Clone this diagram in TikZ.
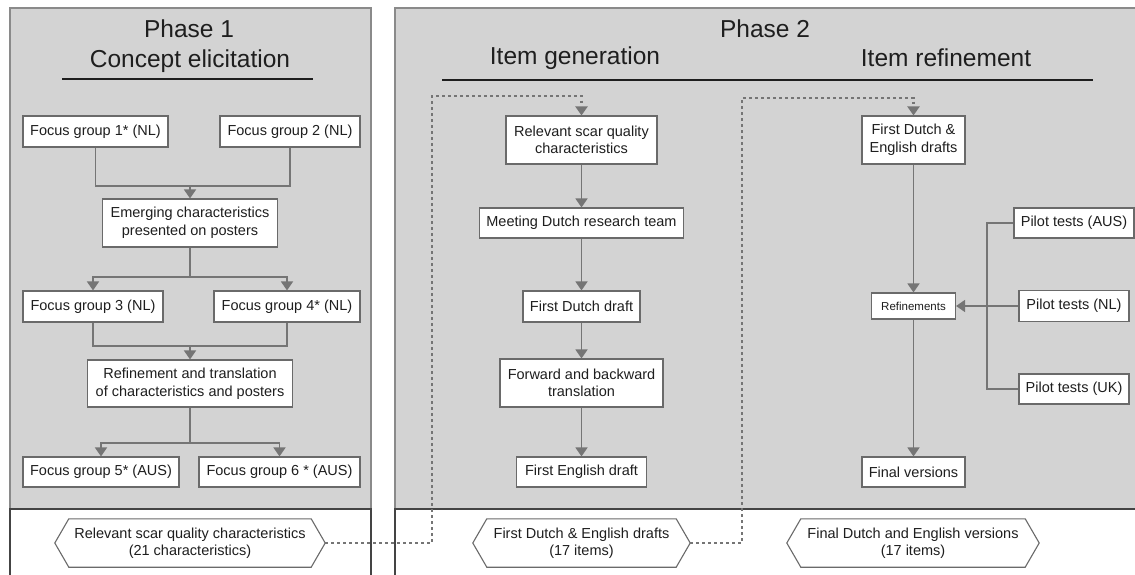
\documentclass[tikz,border=0pt]{standalone}
\usepackage{fontspec}
\setmainfont{Liberation Sans}
\usetikzlibrary{arrows.meta,calc}
\definecolor{panel}{HTML}{D3D3D3}
\definecolor{pborder}{HTML}{8A8A8A}
\definecolor{boxborder}{HTML}{6A6A6A}
\definecolor{conn}{HTML}{757575}
\definecolor{sepc}{HTML}{444444}
\definecolor{txt}{HTML}{1E1E1E}
\newcommand\hexout[1]{\draw[hexd] (#1.west) -- ($(#1.north west)+(14,0)$) -- ($(#1.north east)+(-14,0)$) -- (#1.east) -- ($(#1.south east)+(-14,0)$) -- ($(#1.south west)+(14,0)$) -- cycle;}
\begin{document}
\begin{tikzpicture}[x=1pt,y=-1pt,
 box/.style={draw=boxborder, fill=white, line width=1.1pt, inner sep=0pt, align=center, text=txt, font=\fontsize{14.5}{17.5}\selectfont},
 smallbox/.style={box, font=\fontsize{11.5}{14}\selectfont},
 outtxt/.style={inner sep=0pt, align=center, text=txt, font=\fontsize{14.5}{17.5}\selectfont},
 hexd/.style={draw=boxborder, line width=1.1pt},
 title/.style={anchor=base, inner sep=0pt, text=txt, font=\fontsize{24.5}{29}\selectfont},
 arr/.style={draw=conn, line width=1.6pt, -{Triangle[width=12pt,length=9pt]}},
 ln/.style={draw=conn, line width=1.6pt},
 dots/.style={draw=conn, line width=2.4pt, dash pattern=on 2.6pt off 3.4pt},
 darr/.style={dots, -{Triangle[width=12pt,length=9pt]}},
 uline/.style={draw=txt, line width=1.5pt},
]
\useasboundingbox (0,0) rectangle (1135,575);
\clip (0,0) rectangle (1135,575);
\fill[white] (0,0) rectangle (1135,575);
% panels
\fill[panel] (10,8) rectangle (371,509);
\draw[pborder, line width=1.2pt] (10,509) -- (10,8) -- (371,8) -- (371,509);
\fill[panel] (395,8) rectangle (1145,509);
\draw[pborder, line width=1.2pt] (395,509) -- (395,8) -- (1145,8);
\draw[sepc, line width=1.4pt] (10,590) -- (10,509) -- (371,509) -- (371,590);
\draw[sepc, line width=1.4pt] (395,590) -- (395,509) -- (1145,509);
% titles
\node[title] (p1) at (189,38) {Phase 1};
\node[title] (p1s) at (190,68) {Concept elicitation};
\draw[uline] (62,79) -- (313,79);
\node[title] (p2) at (765,38) {Phase 2};
\node[title] (ig) at (575,65) {Item generation};
\node[title] (ir) at (946,66.5) {Item refinement};
\draw[uline] (442,80) -- (1093,80);
% phase 1 nodes
\node[box, minimum width=145pt, minimum height=31pt] (fg1) at (95.5,131.5) {Focus group 1* (NL)};
\node[box, minimum width=140pt, minimum height=31pt] (fg2) at (290,131.5) {Focus group 2 (NL)};
\node[box, minimum width=175pt, minimum height=48pt] (em) at (190,223) {Emerging characteristics\\presented on posters};
\node[box, minimum width=140pt, minimum height=31pt] (fg3) at (93,306.5) {Focus group 3 (NL)};
\node[box, minimum width=146pt, minimum height=31pt] (fg4) at (287,306.5) {Focus group 4* (NL)};
\node[box, minimum width=205pt, minimum height=47pt] (ref) at (190,383.5) {Refinement and translation\\of characteristics and posters};
\node[box, minimum width=156pt, minimum height=30pt] (fg5) at (101,472) {Focus group 5* (AUS)};
\node[box, minimum width=161pt, minimum height=30pt] (fg6) at (279.5,472) {Focus group 6 * (AUS)};
\coordinate (j1) at (190,186);
\coordinate (j2) at (190,277);
\coordinate (j3) at (190,346);
\coordinate (j4) at (190,443);
\draw[ln] (fg1.south) |- (j1) -| (fg2.south);
\draw[arr] (j1) -- (em.north);
\draw[ln] (em.south) -- (j2);
\draw[arr] (j2) -| (fg3.north);
\draw[arr] (j2) -| (fg4.north);
\draw[ln] (fg3.south) |- (j3) -| (fg4.south);
\draw[arr] (j3) -- (ref.north);
\draw[ln] (ref.south) -- (j4);
\draw[arr] (j4) -| (fg5.north);
\draw[arr] (j4) -| (fg6.north);
% phase 2 item generation
\node[box, minimum width=151pt, minimum height=48pt] (rsq) at (581.5,140) {Relevant scar quality\\characteristics};
\node[box, minimum width=204pt, minimum height=30pt] (meet) at (581.5,223) {Meeting Dutch research team};
\node[box, minimum width=117pt, minimum height=31pt] (fdd) at (581.5,306.5) {First Dutch draft};
\node[box, minimum width=163pt, minimum height=48pt] (fwd) at (581.5,383) {Forward and backward\\translation};
\node[box, minimum width=130pt, minimum height=30pt] (fed) at (581.5,472) {First English draft};
\draw[arr] (rsq.south) -- (meet.north);
\draw[arr] (meet.south) -- (fdd.north);
\draw[arr] (fdd.south) -- (fwd.north);
\draw[arr] (fwd.south) -- (fed.north);
% item refinement
\node[box, minimum width=103pt, minimum height=48pt] (fde) at (913.5,140) {First Dutch \&\\English drafts};
\node[smallbox, minimum width=84pt, minimum height=26pt] (rfn) at (913.5,306) {Refinements};
\node[box, minimum width=103pt, minimum height=30pt] (fv) at (913.5,472) {Final versions};
\node[box, minimum width=120pt, minimum height=30pt] (aus) at (1074,223) {Pilot tests (AUS)};
\node[box, minimum width=110pt, minimum height=31pt] (nl) at (1074,306) {Pilot tests (NL)};
\node[box, minimum width=110pt, minimum height=30pt] (uk) at (1074,389) {Pilot tests (UK)};
\coordinate (vt) at (987,223);
\coordinate (vb) at (987,389);
\draw[ln] (aus.west) -- (vt) -- (vb) -- (uk.west);
\draw[arr] (nl.west) -- (rfn.east);
\draw[arr] (fde.south) -- (rfn.north);
\draw[arr] (rfn.south) -- (fv.north);
% outputs
\node[outtxt, minimum width=270pt, minimum height=48pt] (o1) at (190,543) {Relevant scar quality characteristics\\(21 characteristics)};
\node[outtxt, minimum width=217pt, minimum height=48pt] (o2) at (581.5,543) {First Dutch \& English drafts\\(17 items)};
\node[outtxt, minimum width=252pt, minimum height=48pt] (o3) at (913,543) {Final Dutch and English versions\\(17 items)};
\hexout{o1}
\hexout{o2}
\hexout{o3}
% dotted links
\coordinate (d1a) at (432,96);
\coordinate (d2a) at (742,98);
\draw[darr] (o1.east) -| (d1a) -| (rsq.north);
\draw[darr] (o2.east) -| (d2a) -| (fde.north);
\end{tikzpicture}
\end{document}
